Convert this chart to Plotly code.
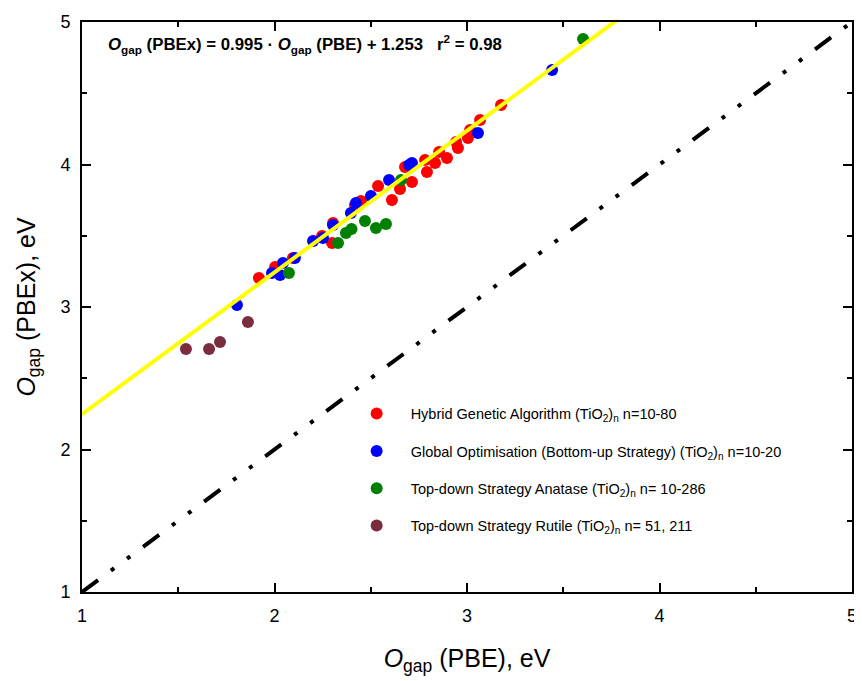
import plotly.graph_objects as go

# ---- data ----
hga_x = [1.919, 2.003, 2.096, 2.247, 2.299, 2.304, 2.418, 2.449, 2.538, 2.610, 2.652, 2.678,
         2.714, 2.782, 2.792, 2.834, 2.855, 2.896, 2.943, 2.953, 3.005, 3.016, 3.068, 3.177]
hga_y = [3.204, 3.281, 3.344, 3.498, 3.449, 3.589, 3.716, 3.744, 3.849, 3.751, 3.828, 3.982,
         3.877, 4.032, 3.947, 4.011, 4.088, 4.046, 4.158, 4.116, 4.186, 4.242, 4.312, 4.418]

glob_x = [1.805, 1.987, 2.044, 2.029, 2.106, 2.200, 2.252, 2.304, 2.397, 2.423, 2.501, 2.595,
          2.699, 2.714, 3.057, 3.442]
glob_y = [3.014, 3.239, 3.309, 3.225, 3.344, 3.463, 3.484, 3.575, 3.660, 3.730, 3.779, 3.891,
          3.996, 4.011, 4.221, 4.663]

anat_x = [2.075, 2.330, 2.371, 2.400, 2.470, 2.527, 2.579, 2.657, 3.603]
anat_y = [3.239, 3.449, 3.519, 3.547, 3.604, 3.554, 3.582, 3.891, 4.881]

rut_x = [1.540, 1.660, 1.717, 1.862]
rut_y = [2.705, 2.705, 2.754, 2.895]

fit_slope = 0.995
fit_intercept = 1.253
fit_x = [1.0, 5.0]
diag_x = [1.0, 5.0]
diag_y = [1.0, 5.0]

names = [
    "Hybrid Genetic Algorithm (TiO<sub>2</sub>)<sub>n</sub> n=10-80",
    "Global Optimisation (Bottom-up Strategy) (TiO<sub>2</sub>)<sub>n</sub> n=10-20",
    "Top-down Strategy Anatase (TiO<sub>2</sub>)<sub>n</sub> n= 10-286",
    "Top-down Strategy Rutile (TiO<sub>2</sub>)<sub>n</sub> n= 51, 211",
]
colors = ["#ff0000", "#0000ff", "#008000", "#7b2c3f"]
tick_vals = [1, 2, 3, 4, 5]

fig = go.Figure()

fig.add_trace(go.Scatter(x=diag_x, y=diag_y, mode="lines", showlegend=False,
                         line=dict(color="black", width=4, dash="20px,16px,4px,16px,4px,16px")))

series = [(hga_x, hga_y), (glob_x, glob_y), (anat_x, anat_y), (rut_x, rut_y)]
for i, ((xs, ys), nm, c) in enumerate(zip(series, names, colors)):
    fig.add_trace(go.Scatter(x=xs, y=ys, mode="markers", name=nm, legendgroup=str(i),
                             marker=dict(color=c, size=12, line=dict(width=0))))

fit_y = [fit_slope * v + fit_intercept for v in fit_x]
fig.add_trace(go.Scatter(x=fit_x, y=fit_y, mode="lines", showlegend=False,
                         line=dict(color="#ffff00", width=4)))

axis_common = dict(
    showgrid=False, zeroline=False, showline=True, linecolor="black", linewidth=2,
    mirror="allticks", ticks="inside", ticklen=9, tickwidth=1.5, tickcolor="black",
    tickvals=tick_vals, range=[1, 5], automargin=False, ticklabelstandoff=6,
    tickfont=dict(family="Liberation Sans, Arial", size=18, color="black"),
    minor=dict(ticks="inside", ticklen=5, tickwidth=1.5, tickcolor="black", dtick=0.5),
)

fig.update_xaxes(**axis_common,
                 title=dict(text="<i>O</i><sub>gap</sub> (PBE), eV", standoff=25,
                            font=dict(family="Liberation Sans, Arial", size=25, color="black")))
fig.update_yaxes(**axis_common,
                 title=dict(text="<i>O</i><sub>gap</sub> (PBEx), eV", standoff=18,
                            font=dict(family="Liberation Sans, Arial", size=25, color="black")))

fig.add_annotation(
    text="<b><i>O</i><sub>gap</sub> (PBEx) = 0.995 · <i>O</i><sub>gap</sub> (PBE) + 1.253 &nbsp; r<sup>2</sup> = 0.98</b>",
    xref="paper", yref="paper", x=0.0315, y=0.962, xanchor="left", yanchor="middle",
    showarrow=False, font=dict(family="Liberation Sans, Arial", size=16.8, color="black"))

# the page body adds an 8px offset, so margins are reduced accordingly
fig.update_layout(
    width=854, height=673,
    margin=dict(l=74, r=10, t=14, b=89),
    plot_bgcolor="white", paper_bgcolor="white",
    legend=dict(x=0.3385, y=0.341, xanchor="left", yanchor="top", itemwidth=58,
                font=dict(family="Liberation Sans, Arial", size=14.5, color="black"),
                tracegroupgap=15.5, bgcolor="rgba(0,0,0,0)"),
)

fig.write_html("out.html")
